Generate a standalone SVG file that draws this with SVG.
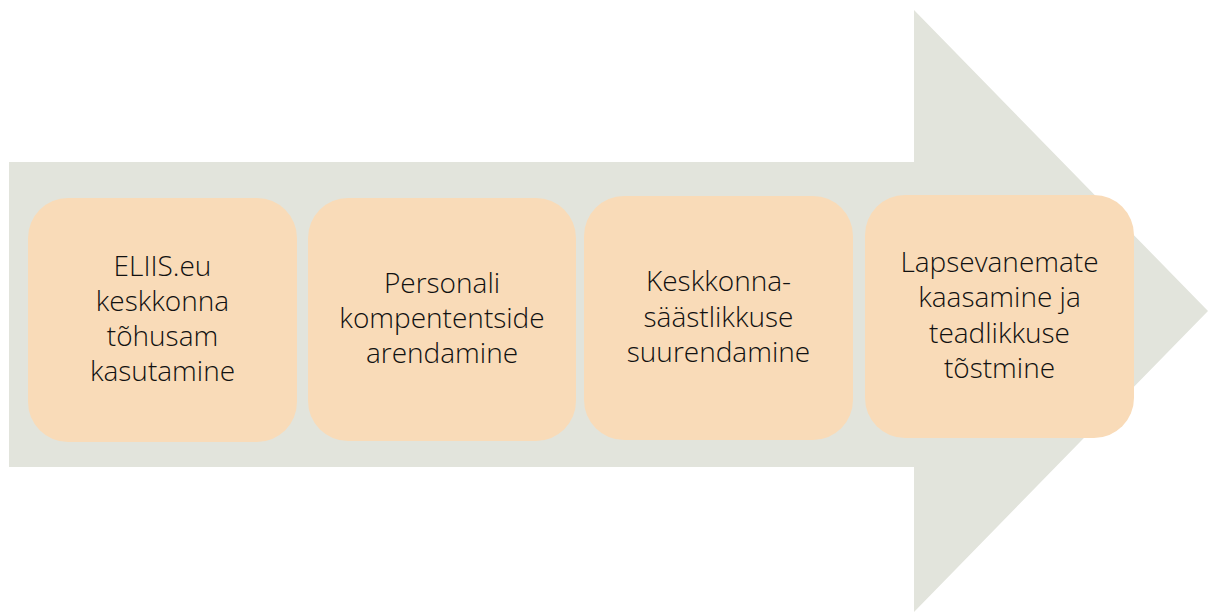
<svg xmlns="http://www.w3.org/2000/svg" width="1208" height="616" viewBox="0 0 1208 616">
<style>
.box{fill:#f9dbb8}
.t{font-family:"Open Sans","Liberation Sans",sans-serif;font-weight:300;font-size:28px;fill:#111111;text-anchor:middle}
</style>
<rect width="1208" height="616" fill="#ffffff"/>
<g id="arrow">
<path d="M9,162 H914 V10 L1208,311 L914,612 V467 H9 Z" fill="#e2e4dc"/>
</g>
<g id="node1">
<rect class="box" x="28" y="198" width="269" height="244" rx="40"/>
<text class="t"><tspan x="162.5" y="276">ELIIS.eu</tspan><tspan x="162.5" y="311">keskkonna</tspan><tspan x="162.5" y="346">tõhusam</tspan><tspan x="162.5" y="381">kasutamine</tspan></text>
</g>
<g id="node2">
<rect class="box" x="308" y="198" width="268" height="243" rx="40"/>
<text class="t"><tspan x="442" y="293">Personali</tspan><tspan x="442" y="328">kompententside</tspan><tspan x="442" y="363">arendamine</tspan></text>
</g>
<g id="node3">
<rect class="box" x="584" y="196" width="269" height="244" rx="40"/>
<text class="t"><tspan x="718.5" y="291">Keskkonna-</tspan><tspan x="718.5" y="327">säästlikkuse</tspan><tspan x="718.5" y="362">suurendamine</tspan></text>
</g>
<g id="node4">
<rect class="box" x="865" y="195" width="269" height="243" rx="40"/>
<text class="t"><tspan x="999.5" y="272">Lapsevanemate</tspan><tspan x="999.5" y="307">kaasamine ja</tspan><tspan x="999.5" y="343">teadlikkuse</tspan><tspan x="999.5" y="378">tõstmine</tspan></text>
</g>
<g id="connectors"></g>
</svg>
